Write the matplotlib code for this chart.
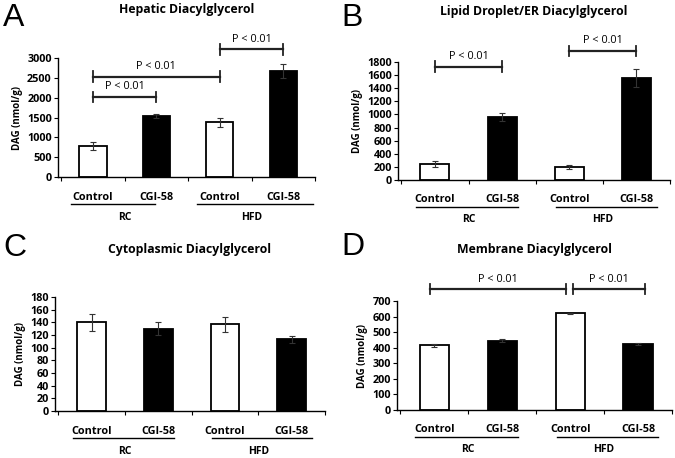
import matplotlib
matplotlib.use("Agg")
import matplotlib.pyplot as plt
import matplotlib.transforms as mtransforms

plt.rcParams['font.family'] = ['Open Sans', 'DejaVu Sans']

conditions = ["Control", "CGI-58", "Control", "CGI-58"]
groups = ["RC", "HFD"]
bar_colors = ["white", "black", "white", "black"]

hepatic_mean = [790, 1550, 1380, 2670]
hepatic_err = [100, 50, 110, 170]
lipid_mean = [240, 960, 200, 1560]
lipid_err = [45, 60, 35, 140]
cyto_mean = [140, 130, 137, 113]
cyto_err = [13, 10, 12, 6]
membrane_mean = [415, 445, 620, 425]
membrane_err = [12, 8, 6, 8]

# significance brackets: (x start, x end, height)
hepatic_sig = [(0, 1, 2020), (0, 2, 2530), (2, 3, 3220)]
lipid_sig = [(0, 1, 1730), (2, 3, 1970)]
membrane_sig = [(-0.06, 1.94, 777), (2.04, 3.1, 777)]

# underline spans of the RC / HFD group labels
hepatic_spans = [(-0.35, 0.98), (1.64, 3.47)]
other_spans = [(-0.28, 1.23), (1.8, 3.3)]

W, H = 675, 458


def px_axes(left, top, right, bottom):
    return [left / W, 1 - bottom / H, (right - left) / W, (bottom - top) / H]


def panel(fig, rect, letter, letter_xy, title, title_y, means, errs, ymax, ystep, sigs, spans):
    ax = fig.add_axes(rect)
    x = range(len(means))
    ax.bar(x, means, width=0.43, color=bar_colors, edgecolor="black", linewidth=1.3, zorder=2)
    ax.errorbar(x, means, yerr=errs, fmt="none", ecolor="#333333", elinewidth=0.8,
                capsize=2.5, capthick=0.8, zorder=3)
    ax.set_xlim(-0.55, 3.5)
    ax.set_ylim(0, ymax)
    ax.set_yticks(range(0, ymax + 1, ystep))
    ax.set_xticks([-0.5, 0.5, 1.5, 2.5, 3.5])
    ax.set_xticklabels([])
    for s in ["top", "right"]:
        ax.spines[s].set_visible(False)
    for s in ["left", "bottom"]:
        ax.spines[s].set_linewidth(1.0)
    ax.tick_params(axis="y", labelsize=7.8, length=3, width=0.8, pad=1.5)
    ax.tick_params(axis="x", length=3, width=0.8, direction="out")
    for lab in ax.get_yticklabels():
        lab.set_fontweight("bold")
    ax.set_ylabel("DAG (nmol/g)", fontsize=7, fontweight="bold", labelpad=3)

    # group labels under the axis
    trans = mtransforms.blended_transform_factory(ax.transData, ax.transAxes)
    ax_h = rect[3] * H
    for i, c in enumerate(conditions):
        ax.text(i, -20 / ax_h, c, transform=trans, ha="center", va="center",
                fontsize=7.8, fontweight="bold")
    for g, (a, b), (s0, s1) in zip(groups, [(0, 1), (2, 3)], spans):
        ax.plot([s0, s1], [-27 / ax_h, -27 / ax_h], transform=trans,
                color="black", lw=1.0, clip_on=False)
        ax.text((a + b) / 2, -40 / ax_h, g, transform=trans, ha="center", va="center",
                fontsize=7.5, fontweight="bold")

    cap = ymax * 0.045
    for a, b, y in sigs:
        ax.plot([a, b], [y, y], color="#222222", lw=1.6, clip_on=False)
        for xx in (a, b):
            ax.plot([xx, xx], [y - cap, y + cap], color="#222222", lw=1.3, clip_on=False)
        ax.text((a + b) / 2, y + ymax * 0.04, "P < 0.01", ha="center", va="bottom",
                fontsize=7.8, clip_on=False)

    fig.text(letter_xy[0] / W, 1 - letter_xy[1] / H, letter, fontsize=23,
             family="Liberation Sans", ha="left", va="center")
    cx = rect[0] + rect[2] / 2
    fig.text(cx, 1 - title_y / H, title, fontsize=8.8, fontweight="bold",
             ha="center", va="center")
    return ax


fig = plt.figure(figsize=(6.75, 4.58), dpi=100)

panel(fig, px_axes(58, 58, 315, 177), "A", (3, 18), "Hepatic Diacylglycerol", 9,
      hepatic_mean, hepatic_err, 3000, 500, hepatic_sig, hepatic_spans)
panel(fig, px_axes(398, 62, 670, 180), "B", (341, 18), "Lipid Droplet/ER Diacylglycerol", 11,
      lipid_mean, lipid_err, 1800, 200, lipid_sig, other_spans)
panel(fig, px_axes(55, 297, 325, 411), "C", (3, 248), "Cytoplasmic Diacylglycerol", 250,
      cyto_mean, cyto_err, 180, 20, [], other_spans)
panel(fig, px_axes(397, 301, 672, 410), "D", (341, 247), "Membrane Diacylglycerol", 249,
      membrane_mean, membrane_err, 700, 100, membrane_sig, other_spans)

fig.savefig("out.png", dpi=100)
